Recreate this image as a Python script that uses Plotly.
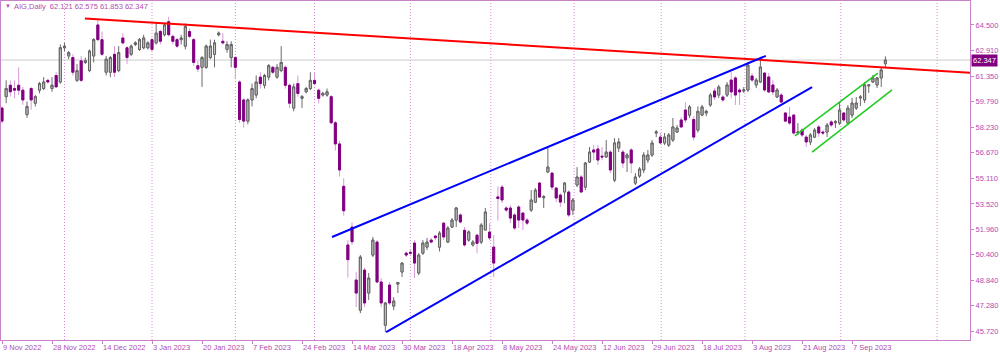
import plotly.graph_objects as go

# ---- OHLC data (daily bars, index 0 = 9 Nov 2022) ----
open_ = [59.40, 60.10, 60.80, 60.60, 60.80, 60.50, 59.00, 60.60, 59.70, 60.50,
         60.60, 61.10, 60.60, 61.40, 61.00, 63.10, 62.60, 62.50, 61.10, 62.30,
         62.20, 61.70, 62.60, 64.50, 63.60, 61.60, 61.60, 62.70, 61.70, 63.70,
         63.10, 62.70, 63.30, 63.00, 63.10, 63.10, 63.60, 63.40, 64.10, 63.90,
         64.70, 63.80, 63.60, 63.60, 63.20, 64.10, 63.60, 62.00, 61.90, 61.90,
         62.50, 62.70, 63.90, 63.50, 63.00, 62.50, 62.50, 61.00, 59.90, 58.60,
         59.90, 60.20, 61.30, 60.80, 61.30, 61.90, 61.30, 61.70, 61.90, 60.80,
         59.40, 60.90, 60.00, 60.40, 60.60, 61.10, 60.50, 60.20, 60.20, 60.10,
         58.50, 57.20, 54.60, 51.00, 52.10, 48.85, 47.00, 49.46, 48.05, 50.38,
         51.18, 48.73, 46.08, 48.54, 47.25, 48.60, 49.34, 50.50, 50.55, 51.12,
         49.28, 50.50, 50.87, 51.30, 51.55, 50.87, 52.34, 51.18, 52.10, 52.53,
         52.84, 51.90, 51.30, 51.00, 51.60, 51.18, 51.92, 51.79, 50.87, 53.95,
         54.55, 53.27, 53.27, 52.84, 53.33, 52.96, 52.53, 53.14, 53.63, 54.80,
         53.90, 55.48, 55.41, 54.49, 54.06, 54.25, 54.25, 53.14, 54.68, 55.17,
         54.55, 56.09, 56.83, 56.89, 56.45, 56.40, 56.70, 54.98, 56.95, 56.70,
         56.34, 56.83, 54.80, 55.23, 55.60, 56.21, 56.52, 57.87, 57.62, 57.26,
         57.13, 57.44, 57.93, 58.67, 59.28, 58.97, 58.70, 58.05, 58.97, 59.10,
         59.59, 60.45, 60.20, 60.08, 60.20, 61.12, 61.25, 60.51, 60.45, 60.51,
         61.37, 60.82, 61.00, 61.55, 61.31, 60.82, 60.08, 60.20, 59.10, 58.85,
         58.97, 57.87, 58.05, 57.62, 57.32, 57.62, 58.24, 57.93, 57.93, 58.55,
         58.50, 58.48, 59.10, 58.48, 58.97, 59.40, 60.02, 59.90, 60.76, 61.00,
         60.82, 61.25, 62.121]
high = [59.50, 61.10, 61.10, 61.10, 61.90, 60.70, 59.80, 60.70, 60.20, 61.00,
        61.30, 61.20, 61.30, 61.60, 63.30, 63.40, 62.90, 62.70, 62.10, 62.60,
        62.50, 63.00, 63.70, 64.80, 64.10, 62.60, 62.60, 63.20, 63.20, 64.00,
        63.20, 63.30, 63.50, 63.70, 63.90, 63.50, 63.70, 64.60, 64.20, 64.60,
        65.00, 63.90, 63.70, 63.90, 64.60, 64.30, 63.70, 62.30, 62.60, 63.30,
        63.60, 63.60, 64.10, 64.00, 63.50, 63.50, 62.60, 61.10, 60.00, 60.00,
        60.90, 61.40, 61.60, 61.50, 62.10, 62.00, 62.10, 63.20, 62.00, 60.90,
        60.90, 61.40, 60.20, 60.70, 61.60, 61.60, 60.60, 60.40, 60.60, 60.20,
        58.60, 57.40, 55.10, 51.30, 52.40, 49.34, 50.38, 49.60, 49.28, 51.49,
        51.30, 48.97, 47.50, 48.73, 47.80, 48.73, 49.95, 50.60, 50.70, 51.30,
        50.50, 51.30, 51.43, 51.45, 51.61, 51.85, 52.41, 52.16, 52.65, 53.33,
        52.96, 52.10, 51.90, 51.30, 51.70, 52.34, 53.27, 52.34, 51.61, 54.60,
        54.68, 53.39, 53.45, 52.96, 53.45, 53.02, 52.65, 54.37, 54.49, 54.86,
        54.06, 56.95, 55.48, 54.55, 54.18, 54.86, 54.37, 53.88, 55.78, 55.29,
        56.09, 57.01, 57.13, 57.13, 57.01, 57.44, 56.83, 57.56, 57.56, 56.83,
        56.64, 56.95, 55.41, 55.78, 56.70, 56.83, 57.44, 58.05, 57.87, 57.87,
        57.87, 58.79, 58.36, 58.85, 59.77, 59.59, 58.90, 59.50, 59.60, 59.30,
        60.33, 60.63, 60.82, 60.20, 61.00, 61.60, 61.37, 60.63, 60.69, 62.23,
        61.55, 61.25, 62.54, 61.61, 61.55, 61.12, 60.63, 60.33, 59.16, 59.47,
        59.04, 58.48, 58.18, 57.75, 57.87, 58.18, 58.36, 58.05, 58.48, 58.67,
        58.67, 59.77, 59.16, 59.59, 60.02, 60.08, 60.20, 61.00, 60.88, 61.43,
        61.31, 61.92, 62.575]
low = [58.45, 59.70, 60.10, 60.00, 60.20, 59.60, 58.80, 59.30, 59.50, 60.30,
       60.50, 60.90, 60.40, 60.65, 60.90, 62.90, 62.40, 61.40, 61.00, 61.00,
       62.10, 61.60, 62.20, 63.50, 62.60, 61.40, 61.30, 61.30, 61.60, 63.30,
       62.10, 62.60, 63.20, 62.90, 63.00, 63.00, 62.90, 63.30, 63.30, 63.80,
       63.80, 63.30, 63.10, 63.30, 63.00, 63.70, 62.00, 61.60, 60.70, 61.80,
       62.40, 61.90, 63.80, 63.30, 62.80, 61.90, 61.20, 58.50, 58.20, 58.40,
       59.50, 60.00, 60.60, 60.60, 61.10, 61.50, 61.20, 61.60, 60.60, 59.40,
       59.20, 60.10, 59.40, 60.30, 60.50, 60.80, 59.70, 60.10, 60.10, 58.40,
       56.80, 55.20, 52.80, 49.00, 51.00, 47.19, 46.82, 47.19, 47.62, 50.26,
       48.66, 47.19, 45.65, 47.31, 47.00, 48.05, 49.03, 50.26, 50.40, 48.97,
       49.15, 50.38, 50.69, 51.10, 51.30, 50.60, 51.30, 51.12, 52.04, 52.10,
       52.34, 50.90, 51.20, 50.90, 50.50, 51.06, 51.92, 51.30, 49.03, 52.50,
       53.57, 53.02, 52.34, 51.92, 52.04, 51.92, 52.22, 53.02, 53.57, 53.88,
       53.27, 55.41, 54.37, 53.63, 53.33, 53.57, 52.71, 52.84, 54.55, 54.18,
       54.37, 56.03, 56.21, 55.91, 56.21, 56.34, 55.41, 54.86, 56.70, 55.72,
       55.48, 55.41, 54.68, 55.11, 55.41, 56.03, 56.40, 57.62, 57.20, 57.13,
       57.01, 57.32, 57.87, 58.18, 58.50, 58.79, 57.40, 57.90, 58.90, 58.90,
       59.47, 59.90, 60.02, 59.77, 60.08, 60.00, 59.59, 59.59, 60.33, 60.39,
       61.00, 60.63, 60.94, 60.39, 60.33, 60.20, 60.02, 59.71, 58.55, 58.36,
       57.75, 57.75, 57.62, 57.01, 57.13, 57.56, 57.62, 57.75, 57.62, 58.24,
       58.18, 58.36, 58.55, 58.36, 58.79, 59.28, 59.53, 59.71, 60.33, 60.94,
       60.63, 60.69, 61.853]
close = [58.60, 60.60, 60.40, 60.50, 60.50, 59.90, 59.50, 59.90, 60.10, 60.90,
         61.00, 61.00, 60.80, 60.70, 63.10, 63.20, 62.80, 61.60, 61.70, 61.10,
         62.30, 62.90, 63.60, 63.60, 62.70, 62.40, 62.50, 61.60, 62.80, 63.40,
         62.50, 63.20, 63.40, 63.60, 63.70, 63.40, 63.00, 64.00, 63.50, 64.50,
         63.90, 63.50, 63.20, 63.70, 64.40, 63.80, 62.20, 61.80, 62.50, 63.20,
         63.20, 63.40, 64.00, 63.40, 63.30, 63.30, 61.90, 58.70, 58.60, 59.90,
         60.60, 61.00, 60.90, 61.40, 62.00, 61.60, 61.90, 62.20, 60.80, 59.70,
         60.70, 60.30, 60.10, 60.60, 61.10, 60.90, 60.00, 60.30, 60.40, 58.50,
         57.20, 55.60, 53.10, 50.10, 51.20, 48.05, 50.26, 47.44, 48.97, 51.30,
         48.73, 47.44, 47.44, 47.44, 47.56, 48.70, 49.89, 50.38, 50.50, 49.89,
         50.38, 51.12, 51.18, 51.18, 51.45, 51.73, 51.49, 52.04, 52.53, 53.27,
         52.41, 51.00, 51.80, 51.18, 51.10, 52.22, 53.02, 51.43, 49.89, 53.85,
         53.76, 53.14, 52.65, 52.04, 52.53, 52.53, 52.34, 53.76, 54.37, 53.94,
         53.96, 55.78, 54.55, 53.88, 53.63, 54.80, 52.84, 53.76, 55.17, 54.25,
         56.03, 56.70, 56.70, 56.21, 56.40, 56.70, 55.60, 57.26, 57.32, 56.03,
         56.52, 56.03, 55.17, 55.66, 56.52, 56.52, 57.26, 57.93, 57.26, 57.62,
         57.75, 58.24, 58.18, 58.24, 58.67, 59.47, 57.62, 59.20, 59.47, 59.20,
         60.20, 60.08, 60.69, 59.90, 60.82, 60.39, 60.20, 60.39, 60.51, 62.04,
         61.12, 61.12, 61.92, 60.51, 60.39, 60.39, 60.51, 59.77, 58.60, 58.48,
         57.87, 57.93, 57.75, 57.32, 57.75, 58.05, 57.87, 57.87, 58.36, 58.36,
         58.56, 59.28, 58.67, 59.40, 59.71, 59.71, 60.08, 60.82, 60.82, 61.25,
         61.25, 61.74, 62.347]

# ---- axis labels ----
x_tick_bars = [0, 12, 24, 36, 48, 60, 72, 84, 96, 108, 120, 132, 144, 156, 168, 180, 192, 204]
x_tick_labels = ["9 Nov 2022", "28 Nov 2022", "14 Dec 2022", "3 Jan 2023", "20 Jan 2023",
                 "7 Feb 2023", "24 Feb 2023", "14 Mar 2023", "30 Mar 2023", "18 Apr 2023",
                 "8 May 2023", "24 May 2023", "12 Jun 2023", "29 Jun 2023", "18 Jul 2023",
                 "3 Aug 2023", "21 Aug 2023", "7 Sep 2023"]
y_tick_values = [45.72, 47.28, 48.84, 50.40, 51.96, 53.52, 55.11, 56.67, 58.23, 59.79,
                 61.35, 62.91, 64.50]
month_separator_bars = [15, 36, 56, 75, 98, 117.3, 137.3, 158.2, 178.3, 201.3, 224.4]

# ---- drawn trendlines (bar index, price) ----
red_x, red_y = [19.9, 232.3], [64.89, 61.57]
blue_up_x, blue_up_y = [79.2, 183.3], [51.49, 62.60]
blue_lo_x, blue_lo_y = [92.2, 194.4], [45.65, 60.69]
green_up_x, green_up_y = [190.3, 210.2], [57.69, 61.55]
green_lo_x, green_lo_y = [194.4, 213.6], [56.70, 60.51]

symbol = "AIG,Daily"

FRAME = "#c882c8"
TXT = "#b24cb2"
FONT = "Liberation Sans"

bars = list(range(len(close)))
body_hi = [max(o, c) for o, c in zip(open_, close)]
body_lo = [min(o, c) for o, c in zip(open_, close)]

fig = go.Figure()

# wicks
fig.add_trace(go.Candlestick(
    x=bars, open=open_, high=high, low=low, close=close,
    increasing=dict(line=dict(color="#6a6a6a", width=1), fillcolor="#6a6a6a"),
    decreasing=dict(line=dict(color="#d89ad8", width=1), fillcolor="#d89ad8"),
    whiskerwidth=0, showlegend=False, hoverinfo="skip"))
# bodies
fig.add_trace(go.Candlestick(
    x=bars, open=open_, high=body_hi, low=body_lo, close=close,
    increasing=dict(line=dict(color="#646464", width=1), fillcolor="#c8c8c8"),
    decreasing=dict(line=dict(color="#800080", width=1), fillcolor="#800080"),
    whiskerwidth=0, showlegend=False, hoverinfo="skip"))

for xs, ys, col, w in [(red_x, red_y, "#ff0000", 2),
                       (blue_up_x, blue_up_y, "#0000ff", 2),
                       (blue_lo_x, blue_lo_y, "#0000ff", 2),
                       (green_up_x, green_up_y, "#22cc22", 1.6),
                       (green_lo_x, green_lo_y, "#22cc22", 1.6)]:
    fig.add_trace(go.Scatter(x=xs, y=ys, mode="lines", line=dict(color=col, width=w),
                             showlegend=False, hoverinfo="skip"))

# month separators
for b in month_separator_bars:
    fig.add_shape(type="line", x0=b, x1=b, y0=0, y1=1, xref="x", yref="paper",
                  line=dict(color="#d68ad6", width=1, dash="1px,2px"), layer="below")
# last price line
fig.add_shape(type="line", x0=0, x1=1, xref="paper", y0=close[-1], y1=close[-1], yref="y",
              line=dict(color="#cccccc", width=1), layer="below")

fig.add_annotation(x=0.002, y=0.985, xref="paper", yref="paper", xanchor="left", yanchor="middle",
                   text="▼", showarrow=False, font=dict(family=FONT, size=6, color=TXT))
fig.add_annotation(x=0.011, y=0.985, xref="paper", yref="paper", xanchor="left", yanchor="middle",
                   text=f"{symbol}  {open_[-1]:.3f} {high[-1]:.3f} {low[-1]:.3f} {close[-1]:.3f}",
                   showarrow=False, font=dict(family=FONT, size=7.5, color=TXT))
fig.add_annotation(x=1, y=close[-1], xref="paper", yref="y", xanchor="left", yanchor="middle",
                   text=f"{close[-1]:.3f}", showarrow=False, bgcolor="#800080", borderpad=1,
                   font=dict(family=FONT, size=7.5, color="white"), xshift=1)

fig.update_layout(
    width=1000, height=353,
    margin=dict(l=1, r=30, t=1, b=13),
    paper_bgcolor="white", plot_bgcolor="white",
    showlegend=False,
    xaxis=dict(range=[-0.24, 232.3], rangeslider=dict(visible=False), showgrid=False,
               zeroline=False, showline=True, linecolor=FRAME, linewidth=1, mirror=True,
               tickmode="array", tickvals=x_tick_bars, ticktext=x_tick_labels,
               ticks="outside", ticklen=3, tickcolor=FRAME, ticklabelposition="outside right",
               tickangle=0, automargin=False,
               tickfont=dict(family=FONT, size=7.5, color=TXT)),
    yaxis=dict(side="right", range=[45.17, 65.97], showgrid=False, zeroline=False,
               showline=True, linecolor=FRAME, linewidth=1, mirror=True,
               tickmode="array", tickvals=y_tick_values,
               ticktext=[f"{v:.3f}" for v in y_tick_values],
               ticks="outside", ticklen=3, tickcolor=FRAME, automargin=False,
               tickfont=dict(family=FONT, size=7.5, color=TXT)),
)

fig.write_html("out.html")
